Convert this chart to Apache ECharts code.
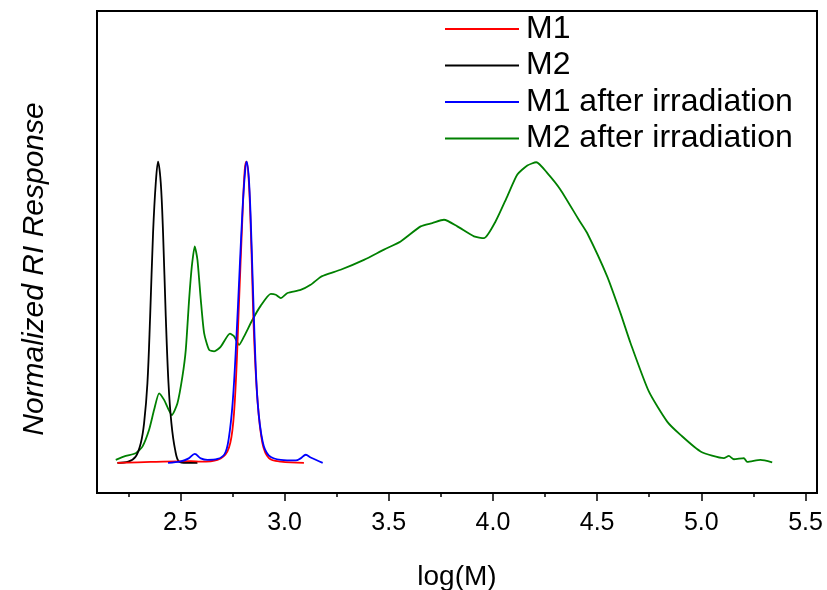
<!DOCTYPE html>
<html>
<head>
<meta charset="utf-8">
<script src="https://cdn.jsdelivr.net/npm/echarts@6/dist/echarts.min.js"></script>
<style>html,body{margin:0;padding:0;background:#fff}#c{width:827px;height:590px}</style>
</head>
<body>
<div id="c"></div>
<script>
// ---- data ----
var seriesNames = ['M1', 'M2', 'M1 after irradiation', 'M2 after irradiation'];
var xTickLabels = [2.5, 3.0, 3.5, 4.0, 4.5, 5.0, 5.5];
var xMinorTicks = [2.25, 2.75, 3.25, 3.75, 4.25, 4.75, 5.25];

var m1X = [2.198, 2.358, 2.550, 2.598, 2.678, 2.726, 2.750, 2.766, 2.782, 2.798, 2.809, 2.817, 2.829, 2.841, 2.853, 2.870, 2.894, 2.925, 2.982, 3.093];
var m1Y = [0.000, 0.003, 0.006, 0.004, 0.010, 0.038, 0.110, 0.265, 0.542, 0.819, 0.973, 1.000, 0.929, 0.708, 0.431, 0.210, 0.065, 0.016, 0.004, 0.000];

var m2X = [2.198, 2.250, 2.286, 2.310, 2.326, 2.342, 2.355, 2.369, 2.382, 2.393, 2.406, 2.417, 2.430, 2.443, 2.457, 2.475, 2.494, 2.530, 2.582];
var m2Y = [0.000, 0.004, 0.021, 0.065, 0.132, 0.265, 0.486, 0.763, 0.929, 1.000, 0.929, 0.763, 0.486, 0.265, 0.132, 0.043, 0.004, 0.000, 0.000];

var m1irrX = [2.441, 2.502, 2.540, 2.569, 2.598, 2.630, 2.678, 2.713, 2.732, 2.751, 2.768, 2.785, 2.799, 2.811, 2.818, 2.830, 2.842, 2.856, 2.871, 2.895, 2.924, 2.982, 3.054, 3.077, 3.102, 3.125, 3.183];
var m1irrY = [0.000, 0.005, 0.015, 0.030, 0.015, 0.010, 0.013, 0.030, 0.080, 0.200, 0.400, 0.650, 0.850, 0.970, 1.000, 0.930, 0.720, 0.420, 0.200, 0.070, 0.025, 0.010, 0.008, 0.015, 0.027, 0.018, 0.000];

var m2irrX = [2.190, 2.238, 2.286, 2.318, 2.350, 2.374, 2.398, 2.422, 2.459, 2.486, 2.510, 2.526, 2.542, 2.555, 2.569, 2.582, 2.598, 2.614, 2.638, 2.662, 2.694, 2.738, 2.758, 2.782, 2.806, 2.846, 2.886, 2.934, 2.958, 2.982, 3.014, 3.077, 3.125, 3.173, 3.213, 3.269, 3.381, 3.477, 3.557, 3.653, 3.709, 3.765, 3.829, 3.909, 3.957, 4.013, 4.069, 4.117, 4.165, 4.208, 4.261, 4.324, 4.412, 4.452, 4.548, 4.612, 4.660, 4.748, 4.836, 4.900, 4.996, 5.108, 5.132, 5.156, 5.204, 5.220, 5.284, 5.340];
var m2irrY = [0.010, 0.023, 0.032, 0.054, 0.110, 0.176, 0.231, 0.209, 0.159, 0.198, 0.287, 0.375, 0.542, 0.652, 0.719, 0.674, 0.542, 0.431, 0.375, 0.370, 0.386, 0.429, 0.420, 0.392, 0.420, 0.475, 0.522, 0.561, 0.558, 0.547, 0.564, 0.574, 0.591, 0.617, 0.628, 0.641, 0.674, 0.708, 0.735, 0.785, 0.796, 0.807, 0.785, 0.752, 0.746, 0.802, 0.885, 0.957, 0.987, 0.998, 0.962, 0.907, 0.807, 0.763, 0.619, 0.497, 0.398, 0.237, 0.137, 0.093, 0.038, 0.016, 0.023, 0.012, 0.016, 0.003, 0.010, 0.002];

function pairs(xs, ys) { return xs.map(function (x, i) { return [x, ys[i]]; }); }

var FONT = 'Liberation Sans, Arial, sans-serif';
var chart = echarts.init(document.getElementById('c'), null, {renderer: 'canvas'});

function mkSeries(name, xs, ys, color, z, smooth) {
  return {
    name: name, type: 'line', data: pairs(xs, ys), symbol: 'none', showSymbol: false, smooth: smooth,
    lineStyle: {color: color, width: 1.8}, itemStyle: {color: color}, z: z, animation: false
  };
}

function tickAxis(values, len) {
  return {
    type: 'value', min: 2.1, max: 5.555, position: 'bottom',
    axisLine: {show: false, onZero: false},
    axisTick: {show: true, inside: false, length: len, interval: 0, customValues: values, lineStyle: {color: '#000', width: 1.5}},
    axisLabel: {show: false},
    splitLine: {show: false}
  };
}

chart.setOption({
  animation: false,
  backgroundColor: '#fff',
  grid: {left: 97, right: 10, top: 11, bottom: 97, show: true, borderColor: '#000', borderWidth: 2,
    backgroundColor: 'transparent', containLabel: false, outerBoundsMode: 'none'},
  legend: {
    data: seriesNames, orient: 'vertical', left: 445, top: 13, padding: 0,
    icon: 'rect', itemWidth: 74, itemHeight: 2, itemGap: 4.5,
    textStyle: {fontFamily: FONT, fontSize: 32, color: '#000', lineHeight: 32, padding: [0, 0, 0, 2]}
  },
  xAxis: [{
    type: 'value', min: 2.1, max: 5.555, position: 'bottom',
    axisLine: {show: true, onZero: false, lineStyle: {color: '#000', width: 2}},
    axisTick: {show: false},
    axisLabel: {show: true, customValues: xTickLabels, margin: 18, fontFamily: FONT, fontSize: 25, color: '#000',
      formatter: function (v) { return v.toFixed(1); }},
    splitLine: {show: false},
    name: 'log(M)', nameLocation: 'middle', nameGap: 70,
    nameTextStyle: {fontFamily: FONT, fontSize: 28, color: '#000'}
  }, tickAxis(xTickLabels, 8), tickAxis(xMinorTicks, 4)],
  yAxis: {
    type: 'value', min: -0.1, max: 1.5,
    axisLine: {show: true, onZero: false, lineStyle: {color: '#000', width: 2}},
    axisTick: {show: false}, axisLabel: {show: false}, splitLine: {show: false}
  },
  graphic: [{
    type: 'text', x: 35, y: 269, rotation: Math.PI / 2,
    style: {text: 'Normalized RI Response', font: 'italic 30px ' + FONT, fill: '#000', textAlign: 'center', textVerticalAlign: 'middle'}
  }],
  series: [
    mkSeries('M2 after irradiation', m2irrX, m2irrY, '#008000', 2, 0.2),
    mkSeries('M2', m2X, m2Y, '#000000', 3, 0.35),
    mkSeries('M1', m1X, m1Y, '#ff0000', 4, 0.35),
    mkSeries('M1 after irradiation', m1irrX, m1irrY, '#0000ff', 5, 0.35)
  ]
});
</script>
</body>
</html>
